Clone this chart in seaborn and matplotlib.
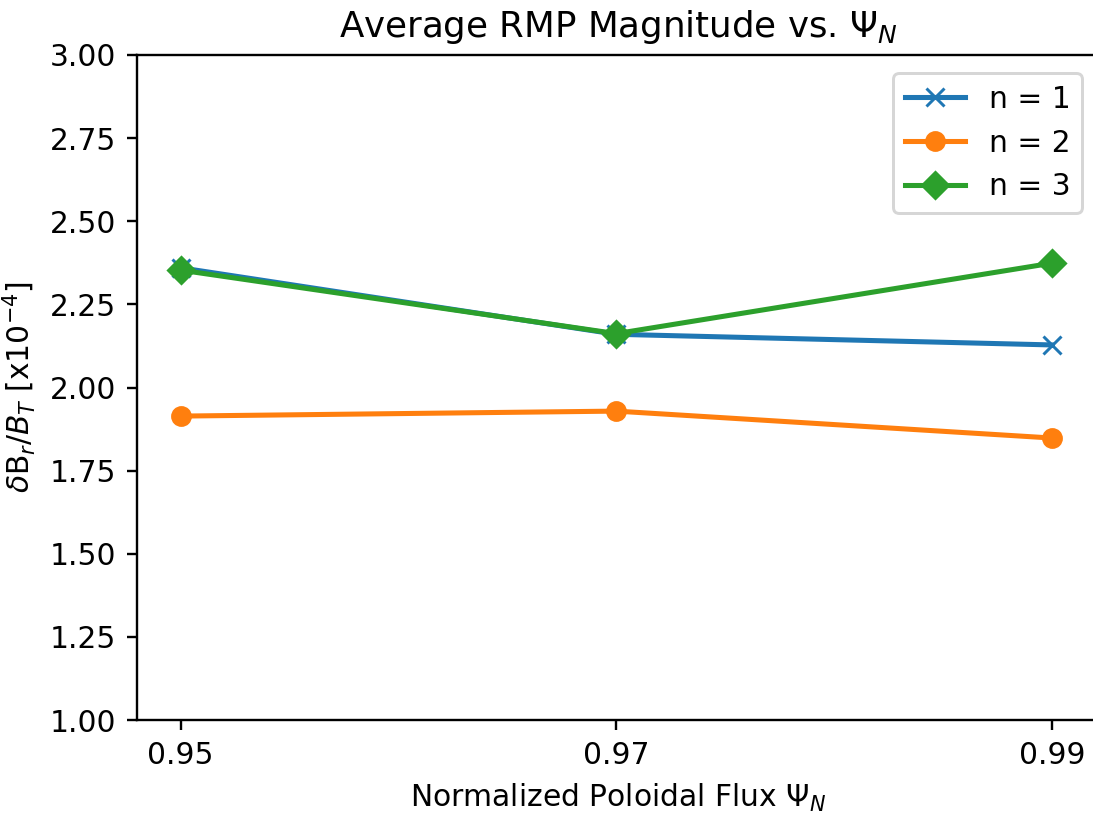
import matplotlib
matplotlib.use("Agg")
import matplotlib.pyplot as plt
import seaborn as sns
import pandas as pd

psi = [0.95, 0.97, 0.99]
n1 = [2.360, 2.160, 2.128]
n2 = [1.914, 1.929, 1.848]
n3 = [2.353, 2.162, 2.374]
labels = ["n = 1", "n = 2", "n = 3"]
markers = ["x", "o", "D"]
colors = ["#1f77b4", "#ff7f0e", "#2ca02c"]
xticks = [0.95, 0.97, 0.99]

dpi = 214
fig = plt.figure(figsize=(1093 / dpi, 814 / dpi), dpi=dpi)
ax = fig.add_axes([137 / 1093, 94 / 814, (1100 - 137) / 1093, (720 - 55) / 814])

for vals, lab, mk, col in zip([n1, n2, n3], labels, markers, colors):
    df = pd.DataFrame({"psi": psi, "val": vals})
    sns.lineplot(data=df, x="psi", y="val", ax=ax, label=lab, marker=mk,
                 color=col, markersize=6, markeredgecolor=col,
                 markeredgewidth=1.0, linewidth=1.7)

ax.set_ylim(1.0, 3.0)
ax.set_xlim(0.948, 0.9922)
ax.set_xticks(xticks)
ax.set_xticklabels([f"{v:.2f}" for v in xticks])
ax.set_xlabel(r"Normalized Poloidal Flux $\Psi_N$")
ax.set_ylabel(r"$\delta$B$_r/B_T$ [x10$^{-4}$]")
ax.set_title(r"Average RMP Magnitude vs. $\Psi_N$")
ax.legend(loc="upper right", borderaxespad=0.6)

fig.savefig("out.png", dpi=dpi)
